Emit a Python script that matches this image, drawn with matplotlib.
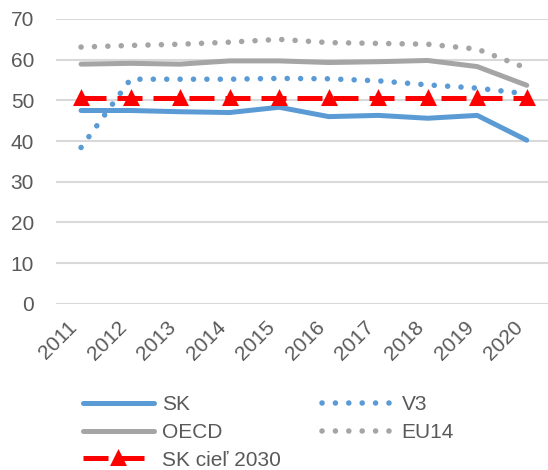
import matplotlib
matplotlib.use("Agg")
import matplotlib.pyplot as plt

plt.rcParams['font.family'] = ['Liberation Sans Narrow', 'Liberation Sans', 'DejaVu Sans']

# data (share, %)
years = ['2011', '2012', '2013', '2014', '2015', '2016', '2017', '2018', '2019', '2020']
sk = [47.5, 47.5, 47.2, 47.0, 48.3, 46.0, 46.3, 45.6, 46.3, 40.2]
v3 = [38.4, 55.2, 55.2, 55.2, 55.4, 55.3, 54.8, 53.8, 53.0, 51.6]
oecd = [58.9, 59.1, 58.9, 59.7, 59.7, 59.3, 59.5, 59.8, 58.3, 53.7]
eu14 = [63.1, 63.5, 63.8, 64.3, 65.0, 64.2, 64.0, 63.8, 62.6, 57.9]
target = [50.6] * 10

blue = '#5B9BD5'
grey = '#A5A5A5'
red = '#FF0000'
txt = '#595959'

fig = plt.figure(figsize=(5.48, 4.70), dpi=100)
ax = fig.add_axes([56.3 / 548, 1 - 303.7 / 470, 495.2 / 548, 284.7 / 470])

x = range(len(years))
lw = 3.6
dot = (0, (0.01, 2.4))

ax.plot(x, sk, color=blue, lw=lw, solid_capstyle='round', label='SK', zorder=3)
ax.plot(x, oecd, color=grey, lw=lw, solid_capstyle='round', label='OECD', zorder=3)
ax.plot(x, target, color=red, lw=lw, dashes=(5, 2.2), marker='^', markersize=9,
        markeredgewidth=2.2, label='SK cieľ 2030', zorder=4)
ax.plot(x, v3, color=blue, lw=lw + 0.4, linestyle=dot, dash_capstyle='round', label='V3', zorder=3)
ax.plot(x, eu14, color=grey, lw=lw + 0.4, linestyle=dot, dash_capstyle='round', label='EU14', zorder=3)

ax.set_ylim(0, 70)
ax.set_xlim(-0.5, 9.5)
ax.set_yticks(range(0, 71, 10))
ax.set_xticks(list(x))
ax.set_xticklabels(years, rotation=45, ha='right', rotation_mode='default')
ax.grid(axis='y', color='#D9D9D9', lw=1.5)
ax.set_axisbelow(True)
for s in ax.spines.values():
    s.set_visible(False)
ax.tick_params(axis='both', length=0, labelsize=15, labelcolor=txt)
ax.tick_params(axis='y', pad=16)
ax.tick_params(axis='x', pad=10)

fig.legend(loc='upper left', bbox_to_anchor=(0.151, 0.159), ncol=2, frameon=False,
           fontsize=15, handlelength=3.4, handletextpad=0.4, columnspacing=2.0,
           labelspacing=0.42, borderpad=0, borderaxespad=0, labelcolor=txt)

fig.savefig('out.png', dpi=100)
